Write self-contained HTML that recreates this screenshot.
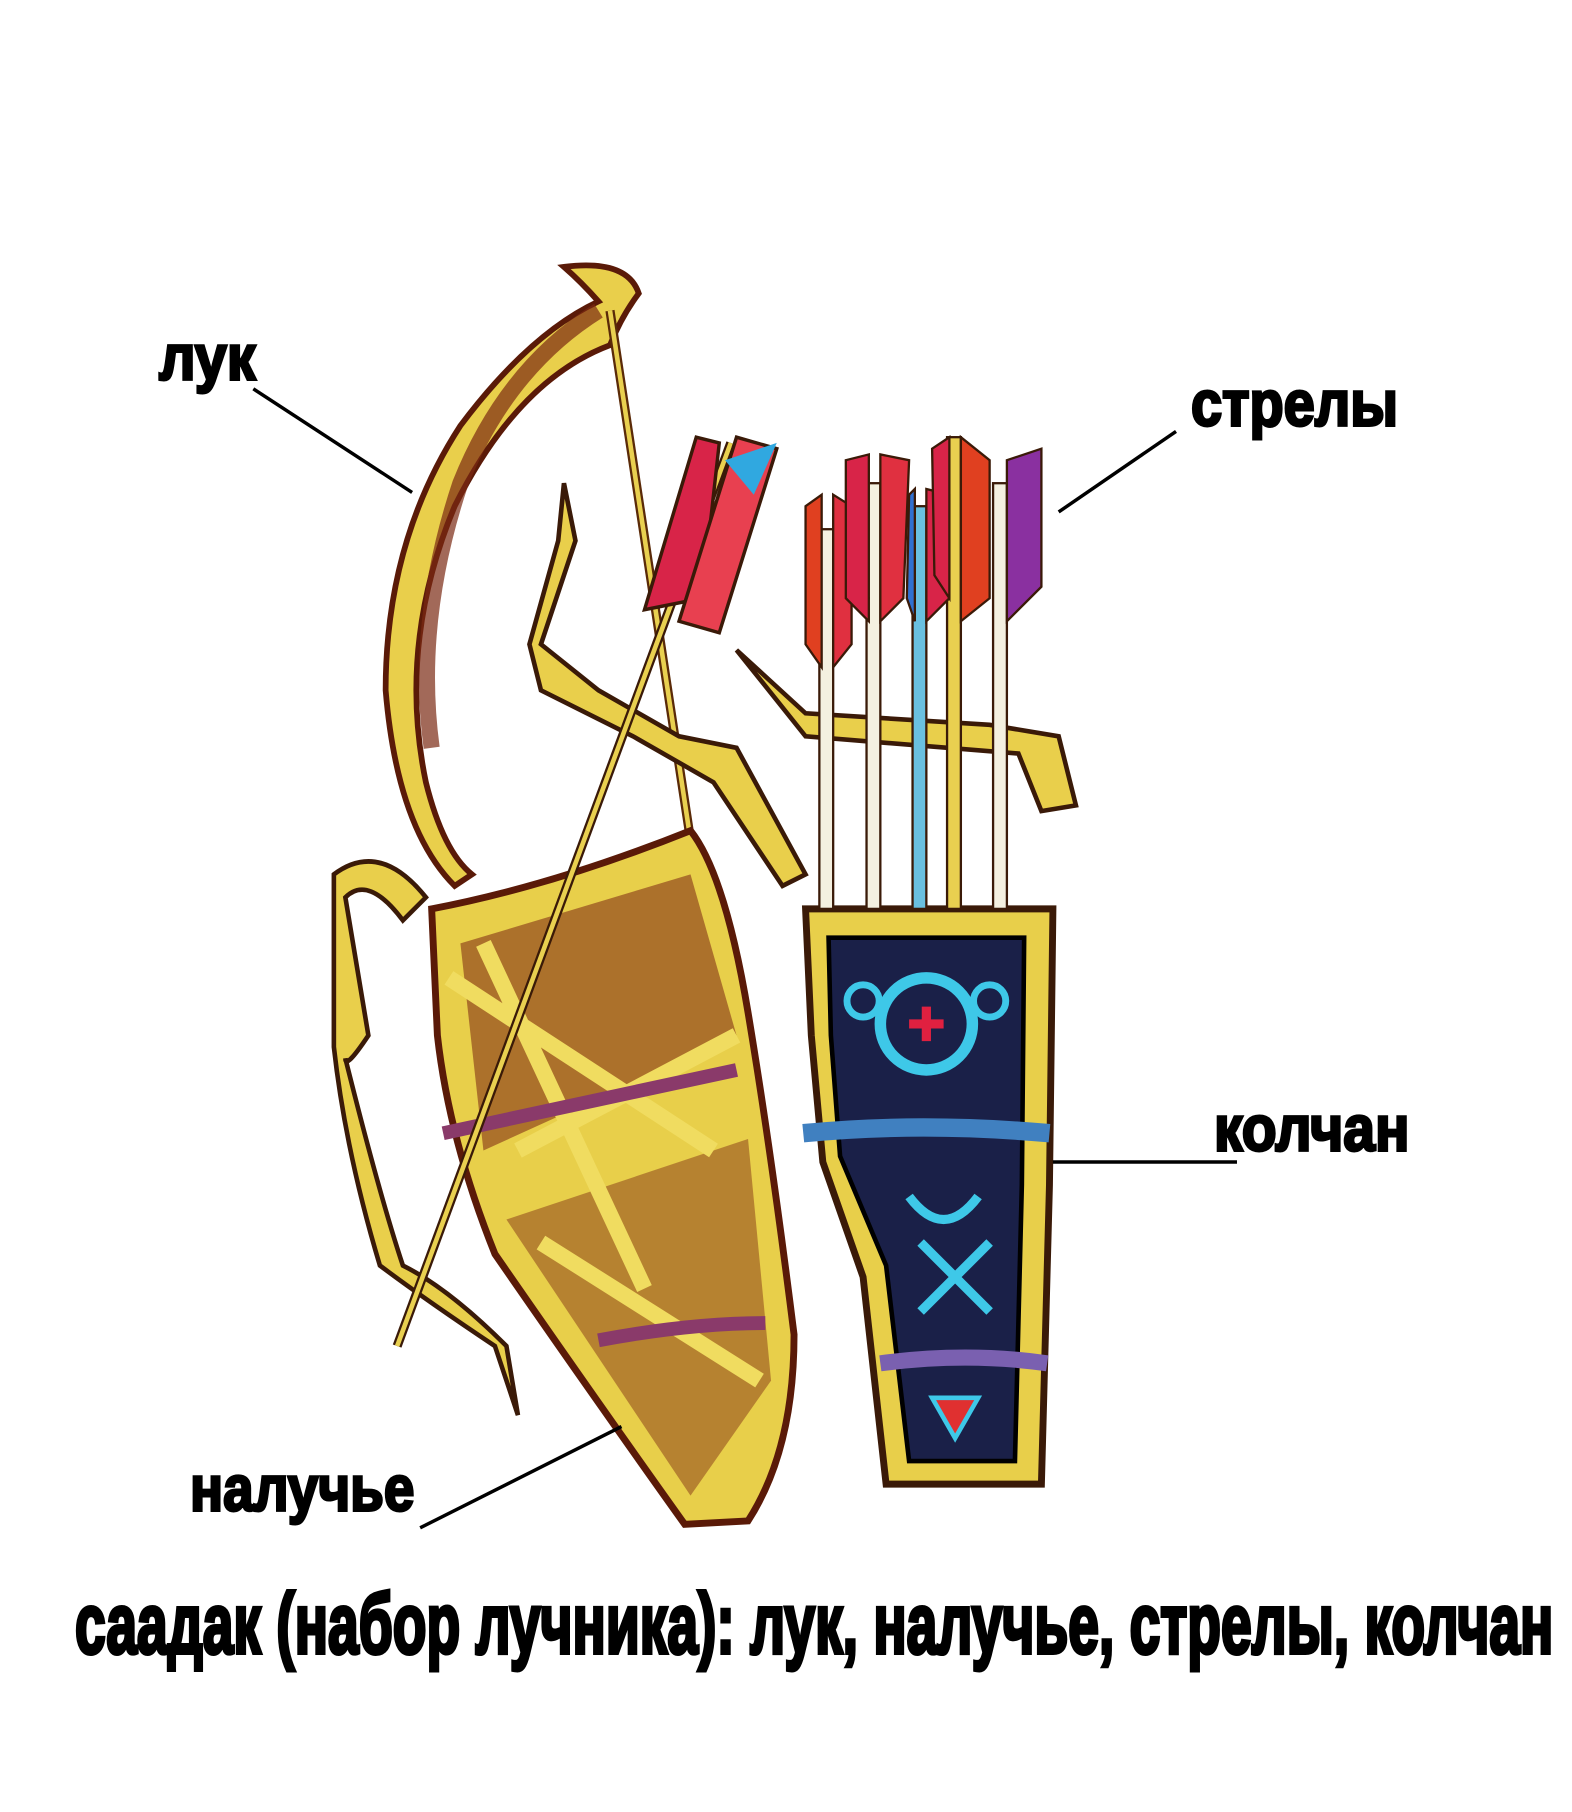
<!DOCTYPE html>
<html><head><meta charset="utf-8"><style>html,body{margin:0;padding:0;background:#fff}svg{display:block}</style></head>
<body>
<svg width="1572" height="1812" viewBox="0 0 1366 1575" xmlns="http://www.w3.org/2000/svg">
<rect width="1366" height="1575" fill="#fff"/>
<!-- bow -->
<path d="M490,232 Q545,225 555,255 Q540,275 530,300 Q450,330 395,440 Q345,560 370,680 Q385,740 410,760 L395,770 Q345,720 335,600 Q335,470 400,370 Q460,290 520,262 Q505,245 490,232 Z" fill="#e9cf4b" stroke="#5a1a08" stroke-width="5"/>
<path d="M520,270 Q440,320 400,420 Q360,540 375,650" fill="none" stroke="#7a2a12" stroke-width="14" opacity="0.7"/>
<line x1="530" y1="270" x2="600" y2="730" stroke="#5a2a08" stroke-width="8"/>
<line x1="530" y1="270" x2="600" y2="730" stroke="#e9d050" stroke-width="4"/>
<!-- straps -->
<path d="M290,760 Q330,730 370,780 L350,800 Q320,760 300,780 L320,900 Q300,930 300,920 Q330,1040 350,1100 Q390,1120 440,1170 L450,1230 L430,1170 Q370,1130 330,1100 Q300,1000 290,910 Z" fill="#e9cf4b" stroke="#3a1a08" stroke-width="4"/>
<path d="M490,420 L500,470 L470,560 L520,600 L590,640 L640,650 L700,760 L680,770 L620,680 L550,640 L470,600 L460,560 L485,470 Z" fill="#e9cf4b" stroke="#3a1a08" stroke-width="4"/>
<path d="M640,565 L700,620 L860,630 L920,640 L935,700 L905,705 L885,655 L700,640 Z" fill="#e9cf4b" stroke="#3a1a08" stroke-width="4"/>
<!-- bow case -->
<path d="M375,790 Q480,770 600,722 Q630,760 650,880 Q670,1000 690,1160 Q690,1260 650,1322 L595,1325 Q520,1220 430,1090 Q390,990 380,900 Z" fill="#e8cf4a" stroke="#5a1a08" stroke-width="6"/>
<path d="M400,820 L600,760 L640,900 L420,1000 Z" fill="#7a2412" opacity="0.55"/>
<path d="M440,1060 L650,990 L670,1200 L600,1300 Z" fill="#7a2412" opacity="0.45"/>
<path d="M390,850 L620,1000 M420,820 L560,1120 M450,1000 L640,900 M470,1080 L660,1200" stroke="#f0dc60" stroke-width="14" fill="none"/>
<path d="M385,985 Q500,960 640,930 M520,1165 Q600,1150 665,1150" stroke="#8a3a6a" stroke-width="12" fill="none"/>
<!-- long arrow -->
<line x1="635" y1="385" x2="345" y2="1170" stroke="#3a1a08" stroke-width="8"/>
<line x1="635" y1="385" x2="345" y2="1170" stroke="#e9d050" stroke-width="4"/>
<path d="M560,530 L605,380 L625,385 L610,520 Z" fill="#d82448" stroke="#3a1a08" stroke-width="3"/>
<path d="M590,540 L640,380 L675,390 L625,550 Z" fill="#e84050" stroke="#3a1a08" stroke-width="3"/>
<path d="M630,400 L675,385 L655,430 Z" fill="#30a8e0"/>
<!-- quiver -->
<path d="M700,790 L915,790 L912,1030 L905,1290 L770,1290 Q760,1200 750,1110 L715,1010 L705,900 Z" fill="#e8cf4a" stroke="#3a1a08" stroke-width="6"/>
<path d="M720,815 L890,815 L888,1030 L882,1270 L790,1270 L770,1100 L730,1005 L722,900 Z" fill="#1a2048" stroke="#000" stroke-width="4"/>
<circle cx="805" cy="890" r="40" fill="none" stroke="#3ec8e8" stroke-width="10"/>
<path d="M790,890 H820 M805,875 V905" stroke="#e02040" stroke-width="8"/>
<circle cx="750" cy="870" r="14" fill="none" stroke="#3ec8e8" stroke-width="6"/>
<circle cx="860" cy="870" r="14" fill="none" stroke="#3ec8e8" stroke-width="6"/>
<path d="M790,1040 Q820,1080 850,1040 M800,1140 L860,1080 M800,1080 L860,1140" stroke="#3ec8e8" stroke-width="8" fill="none"/>
<path d="M810,1215 L830,1250 L850,1215 Z" fill="#e03030" stroke="#3ec8e8" stroke-width="4"/>
<path d="M698,985 Q800,975 912,985" stroke="#4080c0" stroke-width="16" fill="none"/>
<path d="M765,1185 Q840,1175 910,1185" stroke="#7a60b0" stroke-width="14" fill="none"/>
<!-- quiver arrows -->
<g stroke="#3a1a08" stroke-width="2">
<rect x="712" y="460" width="12" height="330" fill="#f4f0e0"/>
<rect x="753" y="420" width="12" height="370" fill="#f4f0e0"/>
<rect x="793" y="440" width="12" height="350" fill="#6ac0e0"/>
<rect x="823" y="380" width="12" height="410" fill="#e9d050"/>
<rect x="863" y="420" width="12" height="370" fill="#f4f0e0"/>
</g>
<g stroke="#3a1a08" stroke-width="2">
<path d="M700,440 L714,430 L714,580 L700,560 Z" fill="#e04020"/>
<path d="M724,430 L740,440 L740,560 L724,580 Z" fill="#e03040"/>
<path d="M735,400 L755,395 L755,540 L735,520 Z" fill="#d82448"/>
<path d="M765,395 L790,400 L785,520 L765,540 Z" fill="#e03040"/>
<path d="M790,430 L795,425 L795,540 L788,520 Z" fill="#3070d0"/>
<path d="M805,425 L825,430 L825,520 L805,540 Z" fill="#d82448"/>
<path d="M810,390 L825,380 L825,520 L812,500 Z" fill="#d82448"/>
<path d="M835,380 L860,400 L860,520 L835,540 Z" fill="#e04020"/>
<path d="M875,400 L905,390 L905,510 L875,540 Z" fill="#8a30a0"/>
</g>
<g stroke="#000" stroke-width="3">
<line x1="220" y1="338" x2="358" y2="428"/>
<line x1="1022" y1="375" x2="920" y2="445"/>
<line x1="915" y1="1010" x2="1075" y2="1010"/>
<line x1="365" y1="1328" x2="540" y2="1240"/>
</g>
<g font-family="Liberation Sans Narrow, Liberation Sans, sans-serif" font-weight="bold" fill="#000" stroke="#000" stroke-width="2.5">
<text x="138" y="330" font-size="56" textLength="84" lengthAdjust="spacingAndGlyphs">лук</text>
<text x="1035" y="370" font-size="56" textLength="180" lengthAdjust="spacingAndGlyphs">стрелы</text>
<text x="1055" y="1000" font-size="56" textLength="170" lengthAdjust="spacingAndGlyphs">колчан</text>
<text x="165" y="1313" font-size="56" textLength="195" lengthAdjust="spacingAndGlyphs">налучье</text>
<text x="65" y="1437" font-size="74" textLength="1285" lengthAdjust="spacingAndGlyphs" stroke-width="3.5">саадак (набор лучника): лук, налучье, стрелы, колчан</text>
</g>
</svg>
</body></html>
